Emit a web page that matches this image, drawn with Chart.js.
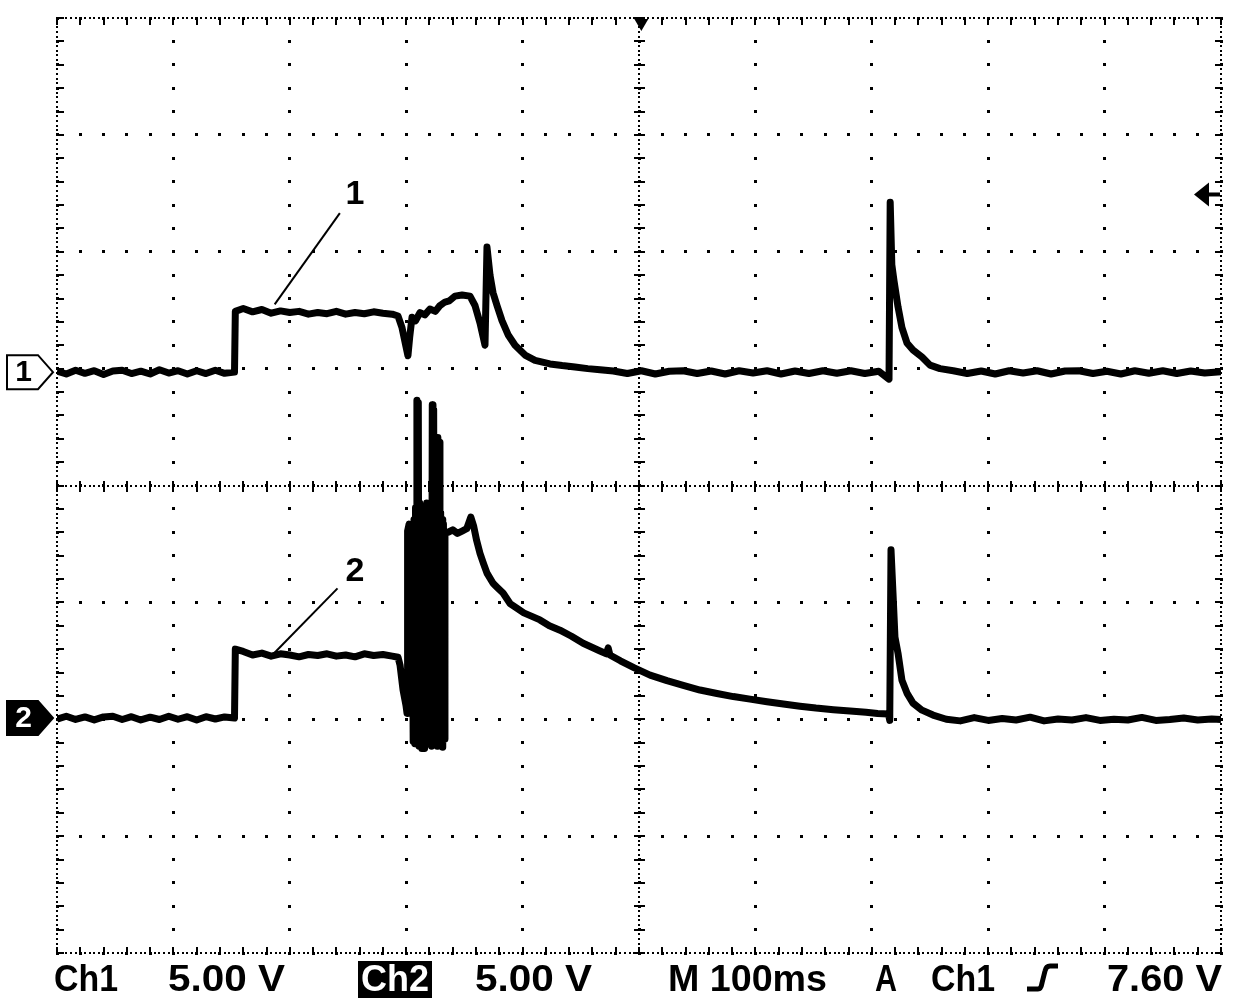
<!DOCTYPE html>
<html>
<head>
<meta charset="utf-8">
<title>Scope capture</title>
<script src="https://cdn.jsdelivr.net/npm/chart.js@4.4.0/dist/chart.umd.min.js"></script>
<style>
  body { margin: 0; background: #fff; }
</style>
</head>
<body>
<canvas id="scope" width="1248" height="1004"></canvas>
<script>
// time base 100 ms/div, 10 divisions; 8 vertical divisions at 5 V/div
const timeTicks = [0, 100, 200, 300, 400, 500, 600, 700, 800, 900, 1000];
const divTicks = [-4, -3, -2, -1, 0, 1, 2, 3, 4];
const voltsPerDiv = 5;
const ch1Offset = 0.97;   // ground marker of channel 1, in divisions
const ch2Offset = -1.99;  // ground marker of channel 2
const triggerTime = 502;
const triggerLevel = 7.60;

// channel 1 (ms, V)
const ch1Time = [
  0, 8, 16, 24, 32, 40, 48, 56, 64, 72, 80, 88, 96, 104, 112, 120, 128, 136, 144, 152.5,
  153.2, 160, 168, 176, 184, 192, 200, 208, 216, 224, 232, 240, 248, 256, 264, 272, 280, 288, 293,
  296.4, 299.8, 301.5, 303.0, 305.0, 308, 311.9, 316, 320.4, 325, 329.0, 333.3, 337, 341.9, 348, 354.8,
  359.1, 363.4, 367.7, 369.4, 372.0, 374.6, 378.0, 382.3, 387.5, 393.5, 402.1, 410.7, 423.5, 434, 445, 456, 466.5,
  478, 490, 502, 514, 526, 538, 550, 562, 574, 586, 598, 610, 622, 634, 646, 658, 670, 682, 694, 706, 714.8,
  715.8, 717.2, 719.1, 722.5, 725.9, 730.2, 735.4, 743.1, 750.0, 758.6,
  770, 782, 794, 806, 818, 830, 842, 854, 866, 878, 890, 902, 914, 926, 938, 950, 962, 974, 986, 1000
];
const ch1Volts = [
  0.05, -0.08, 0.08, -0.05, 0.06, -0.1, 0.05, 0.08, -0.06, 0.04, -0.08, 0.1, -0.04, 0.06, -0.08, 0.06, -0.06, 0.08, -0.05, 0,
  2.6, 2.72, 2.58, 2.68, 2.52, 2.62, 2.55, 2.6, 2.48, 2.55, 2.5, 2.6, 2.48, 2.55, 2.5, 2.58, 2.52, 2.48, 2.4,
  1.9, 1.1, 0.7, 1.5, 2.35, 2.2, 2.55, 2.45, 2.7, 2.6, 2.85, 3.0, 3.05, 3.25, 3.3, 3.25,
  2.85, 2.1, 1.15, 5.35, 4.15, 3.4, 2.85, 2.2, 1.6, 1.15, 0.73, 0.5, 0.35, 0.28, 0.22, 0.15, 0.1,
  0.05, -0.06, 0.06, -0.08, 0.04, 0.06, -0.06, 0.05, -0.08, 0.06, -0.04, 0.06, -0.08, 0.05, -0.06, 0.06, -0.05, 0.06, -0.06, 0.04, -0.3,
  7.27, 4.6, 3.9, 2.8, 1.9, 1.25, 0.95, 0.65, 0.3, 0.15,
  0.06, -0.06, 0.05, -0.08, 0.06, -0.04, 0.06, -0.08, 0.05, 0.06, -0.06, 0.04, -0.08, 0.06, -0.05, 0.06, -0.06, 0.05, -0.04, 0.02
];

// channel 2 (ms, V)
const ch2Time = [
  0, 8, 16, 24, 32, 40, 48, 56, 64, 72, 80, 88, 96, 104, 112, 120, 128, 136, 144, 152.5,
  153.2, 160, 168, 176, 184, 192, 200, 208, 216, 224, 232, 240, 248, 256, 264, 272, 280, 288, 293,
  294.7, 297.3, 299.8, 300.7, 301.2, 302.5, 303.8, 305.0, 306.0, 306.7, 307.4, 308.0, 308.6, 309.2,
  309.8, 310.4, 311.0, 311.6, 312.2, 312.8, 313.4, 314.0, 314.6, 315.2, 315.8, 316.4, 317.0, 317.6,
  318.2, 318.8, 319.4, 320.0, 320.6, 321.2, 321.8, 322.4, 323.0, 323.6, 324.2, 324.8, 325.4, 326.0,
  326.6, 327.2, 327.8, 328.4, 329.0, 329.6, 330.2, 330.8, 331.4, 332.0, 332.6, 333.3,
  336, 340, 344, 348, 352, 355.5, 358, 360.5, 363.4, 366.5, 369.4, 374.6, 378, 383.2, 389.2, 395, 401, 408,
  414.9, 423, 432.1, 442, 452, 466.5, 472, 473.5, 475, 484, 496, 509.5, 524, 538, 552.4, 567, 581, 595.4,
  610, 624, 638.3, 652, 667, 681.3, 695, 705, 714.3,
  715.4, 716.5, 718.2, 719.9, 722.5, 725.9, 730.2, 735.4, 743.1, 752.6,
  764, 776, 788, 800, 812, 824, 836, 848, 860, 872, 884, 896, 908, 920, 932, 944, 956, 968, 980, 992, 1000
];
const ch2Volts = [
  -0.05, 0.08, -0.06, 0.05, -0.08, 0.05, 0.08, -0.06, 0.06, -0.08, 0.04, -0.06, 0.08, -0.05, 0.06, -0.08, 0.06, -0.04, 0.05, 0,
  2.95, 2.85, 2.7, 2.78, 2.65, 2.75, 2.7, 2.62, 2.72, 2.68, 2.75, 2.65, 2.7, 2.62, 2.75, 2.68, 2.72, 2.65, 2.6,
  2.27, 1.2, 0.55, 0.2, 8.0, 8.3, 7.9, 8.1, -1.0, 8.5, -1.1, 9.0, -0.8, 13.6,
  -1.0, 13.5, -1.2, 9.2, -0.9, 9.0, -1.3, 8.6, -0.8, 8.4, -1.3, 8.8, -0.7, 9.2,
  -1.0, 8.9, -1.1, 8.7, -0.9, 9.0, -1.2, 13.4, -1.0, 13.2, -1.1, 9.0, -0.9, 8.6,
  -1.2, 12.0, -1.0, 11.8, -1.1, 8.8, -0.8, 8.5, -1.25, 8.3, -0.9, 7.9,
  7.95, 8.05, 7.9, 8.0, 8.1, 8.6, 8.2, 7.6, 7.05, 6.6, 6.2, 5.77, 5.6, 5.35, 4.9, 4.7, 4.5, 4.35,
  4.2, 3.95, 3.76, 3.5, 3.2, 2.87, 2.75, 3.0, 2.7, 2.45, 2.15, 1.84, 1.6, 1.4, 1.2, 1.05, 0.92, 0.81,
  0.7, 0.6, 0.51, 0.43, 0.36, 0.3, 0.25, 0.2, 0.17,
  -0.1, 7.2, 5.35, 3.46, 2.78, 1.62, 1.07, 0.64, 0.34, 0.13,
  -0.05, -0.12, 0.02, -0.1, -0.02, -0.08, 0.04, -0.12, -0.04, -0.08, 0.02, -0.1, -0.05, -0.08, 0.03, -0.1, -0.06, 0.0, -0.08, -0.04, -0.06
];

// trace labels "1" and "2" with their leader lines (ms, divisions)
const traceLabels = [
  { text: '1', at: [256, 2.49], from: [243, 2.33], to: [187, 1.55] },
  { text: '2', at: [256, -0.74], from: [241, -0.88], to: [185, -1.45] }
];

// readout line under the screen
const readout = [
  { text: 'Ch1', x: 54, w: 64 },
  { text: '5.00 V', x: 168, w: 117 },
  { text: 'Ch2', x: 361, w: 68, boxed: true },
  { text: '5.00 V', x: 475, w: 117 },
  { text: 'M 100ms', x: 668, w: 159 },
  { text: 'A', x: 875, w: 22 },
  { text: 'Ch1', x: 931, w: 64 },
  { text: '7.60 V', x: 1107, w: 115 }
];

function toPoints(times, volts, offset) {
  return times.map((t, i) => ({ x: t, y: volts[i] / voltsPerDiv + offset }));
}

function fitText(ctx, text, x, base, width, font, color) {
  ctx.save();
  ctx.font = font;
  ctx.textAlign = 'left';
  ctx.textBaseline = 'alphabetic';
  const w = ctx.measureText(text).width;
  ctx.translate(x, base);
  ctx.scale(width / w, 1);
  ctx.fillStyle = color;
  ctx.fillText(text, 0, 0);
  ctx.restore();
}

// dotted graticule like the scope screen
const graticule = {
  id: 'graticule',
  beforeDatasetsDraw(chart) {
    const { ctx, chartArea: a, scales: { x, y } } = chart;
    const xDiv = x.getPixelForValue(100) - x.getPixelForValue(0);
    const yDiv = y.getPixelForValue(0) - y.getPixelForValue(1);
    const dot = (px, py, w, h) => ctx.fillRect(Math.round(px - w / 2), Math.round(py - h / 2), w, h);
    ctx.save();
    ctx.fillStyle = '#000';

    // plain division lines: one dot per fifth of a division
    timeTicks.forEach(t => {
      const px = x.getPixelForValue(t);
      for (let k = 0; k <= 40; k++) dot(px, a.top + k * yDiv / 5, 3, 3);
    });
    divTicks.forEach(d => {
      const py = y.getPixelForValue(d);
      for (let k = 0; k <= 50; k++) dot(a.left + k * xDiv / 5, py, 3, 3);
    });

    // border and centre cross: dense dots plus minor ticks
    const vLines = [[x.getPixelForValue(0), 1], [x.getPixelForValue(500), 0], [x.getPixelForValue(1000), -1]];
    const hLines = [[y.getPixelForValue(4), 1], [y.getPixelForValue(0), 0], [y.getPixelForValue(-4), -1]];
    vLines.forEach(([px, dir]) => {
      for (let k = 0; k <= 200; k++) dot(px, a.top + k * yDiv / 25, 2, 2);
      for (let k = 0; k <= 40; k++) {
        const py = Math.round(a.top + k * yDiv / 5);
        if (dir === 0) ctx.fillRect(Math.round(px) - 5, py - 1, 11, 2);
        else ctx.fillRect(dir > 0 ? Math.round(px) : Math.round(px) - 6, py - 1, 7, 2);
      }
    });
    hLines.forEach(([py, dir]) => {
      for (let k = 0; k <= 250; k++) dot(a.left + k * xDiv / 25, py, 2, 2);
      for (let k = 0; k <= 50; k++) {
        const px = Math.round(a.left + k * xDiv / 5);
        if (dir === 0) ctx.fillRect(px - 1, Math.round(py) - 5, 2, 11);
        else ctx.fillRect(px - 1, dir > 0 ? Math.round(py) : Math.round(py) - 6, 2, 7);
      }
    });
    ctx.restore();
  },
  afterDatasetsDraw(chart) {
    const { ctx, chartArea: a, scales: { x, y } } = chart;
    ctx.save();

    // channel ground markers
    const marker = (yc, label, filled) => {
      const tip = a.left - 4, right = a.left - 19, left = a.left - 50;
      ctx.beginPath();
      ctx.moveTo(left, yc - 17);
      ctx.lineTo(right, yc - 17);
      ctx.lineTo(tip, yc);
      ctx.lineTo(right, yc + 17);
      ctx.lineTo(left, yc + 17);
      ctx.closePath();
      ctx.fillStyle = filled ? '#000' : '#fff';
      ctx.fill();
      ctx.lineWidth = 2;
      ctx.strokeStyle = '#000';
      ctx.stroke();
      ctx.fillStyle = filled ? '#fff' : '#000';
      ctx.font = 'bold 30px "Liberation Sans", Arial, sans-serif';
      ctx.textAlign = 'center';
      ctx.textBaseline = 'middle';
      ctx.fillText(label, (left + right) / 2 + 1, yc + 1);
    };
    marker(y.getPixelForValue(ch1Offset), '1', false);
    marker(y.getPixelForValue(ch2Offset), '2', true);

    // trigger position (top) and trigger level (right)
    const tx = x.getPixelForValue(triggerTime);
    ctx.fillStyle = '#000';
    ctx.beginPath();
    ctx.moveTo(tx - 7, a.top + 1);
    ctx.lineTo(tx + 7, a.top + 1);
    ctx.lineTo(tx, a.top + 13);
    ctx.closePath();
    ctx.fill();
    const ly = y.getPixelForValue(ch1Offset + triggerLevel / voltsPerDiv);
    const head = a.right - 27;
    ctx.beginPath();
    ctx.moveTo(head, ly);
    ctx.lineTo(head + 15, ly - 12);
    ctx.lineTo(head + 15, ly + 12);
    ctx.closePath();
    ctx.fill();
    ctx.fillRect(head + 14, ly - 2, a.right - head - 15, 4);

    // trace labels
    ctx.strokeStyle = '#000';
    ctx.lineWidth = 2;
    ctx.font = 'bold 34px "Liberation Sans", Arial, sans-serif';
    ctx.textAlign = 'center';
    ctx.textBaseline = 'middle';
    traceLabels.forEach(l => {
      ctx.fillText(l.text, x.getPixelForValue(l.at[0]), y.getPixelForValue(l.at[1]));
      ctx.beginPath();
      ctx.moveTo(x.getPixelForValue(l.from[0]), y.getPixelForValue(l.from[1]));
      ctx.lineTo(x.getPixelForValue(l.to[0]), y.getPixelForValue(l.to[1]));
      ctx.stroke();
    });

    // readout text
    const base = a.bottom + 38;
    const font = 'bold 36px "Liberation Sans", Arial, sans-serif';
    readout.forEach(r => {
      if (r.boxed) {
        ctx.fillStyle = '#000';
        ctx.fillRect(r.x - 3, a.bottom + 8, r.w + 6, 37);
        fitText(ctx, r.text, r.x, base, r.w, font, '#fff');
      } else {
        fitText(ctx, r.text, r.x, base, r.w, font, '#000');
      }
    });
    // rising-edge slope symbol
    ctx.strokeStyle = '#000';
    ctx.lineWidth = 5;
    ctx.lineJoin = 'round';
    ctx.beginPath();
    ctx.moveTo(1027, base - 2);
    ctx.lineTo(1038, base - 2);
    ctx.quadraticCurveTo(1041, base - 2, 1042, base - 8);
    ctx.lineTo(1045, base - 20);
    ctx.quadraticCurveTo(1046, base - 25, 1050, base - 25);
    ctx.lineTo(1058, base - 25);
    ctx.stroke();
    ctx.restore();
  }
};

const ctx = document.getElementById('scope').getContext('2d');
const scope = new Chart(ctx, {
  type: 'line',
  data: {
    datasets: [
      { label: 'Ch1', data: toPoints(ch1Time, ch1Volts, ch1Offset) },
      { label: 'Ch2', data: toPoints(ch2Time, ch2Volts, ch2Offset) }
    ]
  },
  options: {
    responsive: false,
    animation: false,
    layout: { padding: { left: 57, right: 27, top: 18, bottom: 51 } },
    plugins: { legend: { display: false }, tooltip: { enabled: false } },
    elements: {
      point: { radius: 0 },
      line: { tension: 0, borderWidth: 7, borderColor: '#000', borderJoinStyle: 'round', fill: false }
    },
    scales: {
      x: { type: 'linear', min: 0, max: 1000, display: false },
      y: { type: 'linear', min: -4, max: 4, display: false }
    }
  },
  plugins: [graticule]
});
</script>
</body>
</html>
